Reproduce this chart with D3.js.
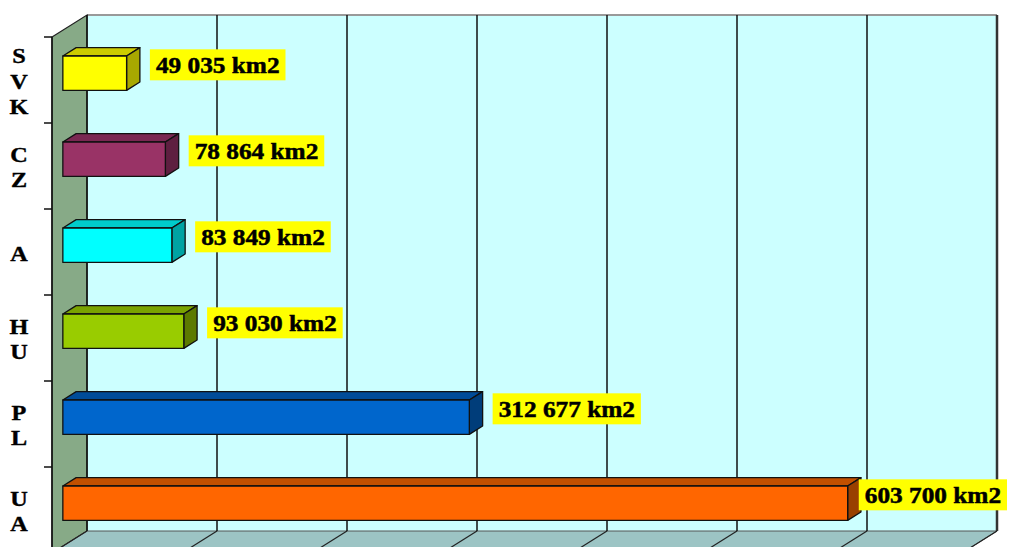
<!DOCTYPE html>
<html>
<head>
<meta charset="utf-8">
<script src="https://cdn.jsdelivr.net/npm/d3@7"></script>
<style>
	body { margin: 0; background: #fff; }
	svg { display: block; }
</style>
</head>
<body>
<div id="chart"></div>
<script>

// data
let categories = ['SVK', 'CZ', 'A', 'HU', 'PL', 'UA']
let values = [49035, 78864, 83849, 93030, 312677, 603700]
let labels = ['49 035 km2', '78 864 km2', '83 849 km2', '93 030 km2', '312 677 km2', '603 700 km2']
let faceColors = ['#ffff00', '#993366', '#00ffff', '#99cc00', '#0066cc', '#ff6600']
let topColors = ['#cccc00', '#7a2852', '#00cccc', '#7aa300', '#004c99', '#c25000']
let sideColors = ['#a8a800', '#5e1f40', '#00a3a3', '#5c7a00', '#003d7a', '#994000']
let xTicks = [0, 100000, 200000, 300000, 400000, 500000, 600000, 700000]

let width = 1011
let height = 547

// front plane origin and depth offset of the 3D box
let x0 = 52
let depthX = 35
let depthY = -22

let svg = d3.select('#chart').append('svg')
	.attr('width', width).attr('height', height)

let x = d3.scaleLinear().domain([0, 700000]).range([0, 910])
let y = d3.scaleBand().domain(categories).range([37, 553])

// point at depth d (0 = front, 1 = back)
let P = (px, py, d) => [x0 + px + depthX * d, py + depthY * d]
let poly = pts => pts.map(p => p.join(',')).join(' ')

let yTop = y.range()[0], yBot = y.range()[1]
let font = '"Liberation Serif", "Times New Roman", serif'

// back wall
let bl = P(0, yTop, 1), br = P(x(700000), yBot, 1)
svg.append('rect').attr('x', bl[0]).attr('y', bl[1]).attr('width', br[0] - bl[0]).attr('height', br[1] - bl[1])
	.attr('fill', '#ccffff')
svg.append('line').attr('x1', bl[0]).attr('x2', br[0]).attr('y1', bl[1]).attr('y2', bl[1])
	.attr('stroke', '#999').attr('stroke-width', 2)

// left wall
svg.append('polygon')
	.attr('points', poly([P(0, yTop, 0), P(0, yTop, 1), P(0, yBot, 1), P(0, yBot, 0)]))
	.attr('fill', '#87aa87').attr('stroke', '#222').attr('stroke-width', 1.2)

// floor
svg.append('polygon')
	.attr('points', poly([P(0, yBot, 1), P(x(700000), yBot, 1), P(x(700000), yBot, 0), P(0, yBot, 0)]))
	.attr('fill', '#9cc4c4').attr('stroke', '#555').attr('stroke-width', 1)

// gridlines on back wall and floor
xTicks.forEach(t => {
	let a = P(x(t), yTop, 1), b = P(x(t), yBot, 1), c = P(x(t), yBot, 0)
	svg.append('line').attr('x1', a[0]).attr('y1', a[1]).attr('x2', b[0]).attr('y2', b[1])
		.attr('stroke', t == 700000 ? '#333' : '#111').attr('stroke-width', t == 700000 ? 2.5 : 1.5)
	svg.append('line').attr('x1', b[0]).attr('y1', b[1]).attr('x2', c[0]).attr('y2', c[1])
		.attr('stroke', '#222').attr('stroke-width', 1.2)
})

// category axis on the front plane
svg.append('line').attr('x1', x0).attr('x2', x0).attr('y1', yTop).attr('y2', yBot)
	.attr('stroke', '#111').attr('stroke-width', 1.5)
categories.forEach(c => {
	svg.append('line').attr('x1', x0 - 8).attr('x2', x0).attr('y1', y(c)).attr('y2', y(c))
		.attr('stroke', '#111').attr('stroke-width', 1.5)
	let letters = c.split('')
	let cy = y(c) + y.bandwidth() / 2 + 1
	letters.forEach((ch, i) => {
		svg.append('text')
			.attr('x', 0).attr('y', 0)
			.attr('transform', `translate(19,${cy + (i - (letters.length - 1) / 2) * 25.5 + 7.5}) scale(1.1,1)`)
			.attr('text-anchor', 'middle')
			.attr('stroke', '#000').attr('stroke-width', 0.4)
			.style('font-family', font)
			.style('font-weight', 'bold').style('font-size', '22px')
			.text(ch)
	})
})

// bars
let thick = y.bandwidth() * 0.4
let d1 = 0.31, d2 = 0.69
categories.forEach((c, i) => {
	let cy = y(c) + y.bandwidth() / 2
	let t = cy - thick / 2, b = cy + thick / 2
	let w = x(values[i])
	let g = svg.append('g').attr('stroke', '#111').attr('stroke-width', 1.3).attr('stroke-linejoin', 'round')
	g.append('polygon').attr('points', poly([P(0, t, d1), P(0, t, d2), P(w, t, d2), P(w, t, d1)]))
		.attr('fill', topColors[i])
	g.append('polygon').attr('points', poly([P(w, t, d1), P(w, t, d2), P(w, b, d2), P(w, b, d1)]))
		.attr('fill', sideColors[i])
	let f = P(0, t, d1)
	g.append('rect').attr('x', f[0]).attr('y', f[1]).attr('width', w).attr('height', thick)
		.attr('fill', faceColors[i])

	// value label
	let end = P(w, cy, d2)
	let lg = svg.append('g')
	let box = lg.append('rect').attr('fill', '#ffff00')
	let txt = lg.append('text')
		.attr('transform', 'scale(1.1,1)')
		.attr('x', 5.5).attr('y', 8)
		.attr('stroke', '#000').attr('stroke-width', 0.5)
		.style('font-family', font)
		.style('font-weight', 'bold').style('font-size', '23px')
		.text(labels[i])
	let bw = txt.node().getComputedTextLength() * 1.1 + 12
	let bx = Math.min(end[0] + 10, width - 4 - bw)
	lg.attr('transform', `translate(${bx},${end[1]})`)
	box.attr('x', 0).attr('y', -15.5).attr('width', bw).attr('height', 31)
})

</script>
</body>
</html>
